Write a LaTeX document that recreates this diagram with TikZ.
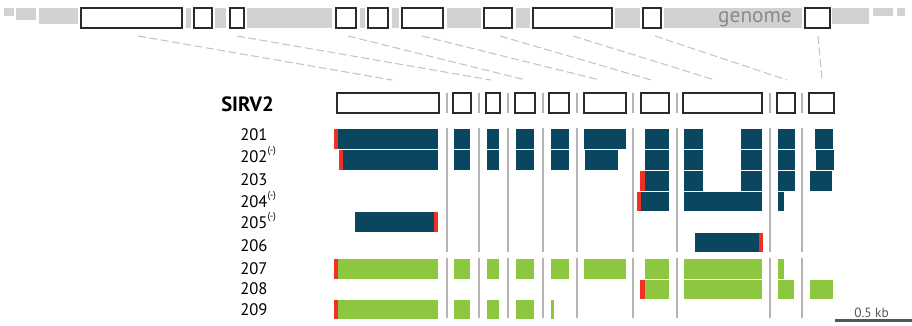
\documentclass[tikz,border=0pt]{standalone}
\usepackage{fontspec}
\setmainfont{PT Sans}
\usetikzlibrary{fit,calc}
\definecolor{gbar}{HTML}{D2D2D2}
\definecolor{boxline}{HTML}{2B2B2B}
\definecolor{dblue}{HTML}{0B4660}
\definecolor{lgreen}{HTML}{8DC63F}
\definecolor{redm}{HTML}{EE3124}
\definecolor{sepc}{HTML}{B4B4B4}
\definecolor{dashc}{HTML}{C4C4C4}
\definecolor{txtgrey}{HTML}{8A8A8A}
\definecolor{scalec}{HTML}{555555}
\newcommand\exn[4]{\fill[#1] (#2,#4) rectangle (#3,#4+19.5);}
\begin{document}
\begin{tikzpicture}[x=0.75pt,y=-0.75pt,
  gbox/.style={draw=boxline, line width=1pt, fill=white, inner sep=0pt, outer sep=0pt},
  sbox/.style={draw=boxline, line width=1.1pt, fill=white, inner sep=0pt, outer sep=0pt},
  sepline/.style={draw=sepc, line width=1pt},
  dline/.style={draw=dashc, line width=0.8pt, dash pattern=on 6pt off 2.6pt},
  lab/.style={anchor=base west, inner sep=0pt, font=\fontsize{12.5}{14}\selectfont}]
\useasboundingbox (0,0) rectangle (912,325);
% grey genome bar pieces
\fill[gbar] (4,8) rectangle (14,16);
\fill[gbar] (16,8) rectangle (36,20);
\fill[gbar] (39,8) rectangle (78,24);
\foreach \a/\b in {186/191,215/226,247/332,360/365,392/399,447/481,516/530,615/640,664/802}
  \fill[gbar] (\a,8) rectangle (\b,28);
\fill[gbar] (832,8) rectangle (869,24);
\fill[gbar] (873,8) rectangle (893,16);
\fill[gbar] (897,8) rectangle (905,16);
\node[anchor=base, inner sep=0pt, text=txtgrey, font=\fontsize{16}{18}\selectfont] (glab) at (755,22) {genome};
% genome exon boxes
\node[gbox, fit={(81,8)(182,28)}] (g1) {};
\node[gbox, fit={(194,8)(212,28)}] (g2) {};
\node[gbox, fit={(230,8)(244,28)}] (g3) {};
\node[gbox, fit={(336,8)(356,28)}] (g4) {};
\node[gbox, fit={(368,8)(388,28)}] (g5) {};
\node[gbox, fit={(402,8)(443,28)}] (g6) {};
\node[gbox, fit={(484,8)(512,28)}] (g7) {};
\node[gbox, fit={(533,8)(612,28)}] (g8) {};
\node[gbox, fit={(643,8)(661,28)}] (g9) {};
\node[gbox, fit={(805,8)(830,28)}] (g10) {};
% SIRV2 exon boxes
\node[anchor=base west, inner sep=0pt, font=\bfseries\fontsize{15.5}{18}\selectfont] (sirv) at (221,111) {SIRV2};
\node[sbox, fit={(337,93)(439,113)}] (s1) {};
\node[sbox, fit={(453,93)(471,113)}] (s2) {};
\node[sbox, fit={(486,93)(500,113)}] (s3) {};
\node[sbox, fit={(515,93)(535,113)}] (s4) {};
\node[sbox, fit={(549,93)(569,113)}] (s5) {};
\node[sbox, fit={(584,93)(626,113)}] (s6) {};
\node[sbox, fit={(641,93)(669,113)}] (s7) {};
\node[sbox, fit={(683,93)(762,113)}] (s8) {};
\node[sbox, fit={(777,93)(795,113)}] (s9) {};
\node[sbox, fit={(809,93)(834,113)}] (s10) {};
% dashed mapping lines
\foreach \i/\xa/\xb in {1/138/392,2/237/491,3/348/526,4/422/600,5/500/651,6/573/715,7/655/787,8/818/822}{
  \coordinate (da\i) at (\xa,36);
  \coordinate (db\i) at (\xb,80);
  \draw[dline] (da\i) -- (db\i);
}
% separator lines
\foreach \x in {447,479,508,543,577,633,677,770,802}{
  \draw[sepline] (\x,93) -- (\x,113);
  \draw[sepline] (\x,128) -- (\x,252);
  \draw[sepline] (\x,258) -- (\x,318);
}
% labels
\newcommand\minus{\raisebox{0.5em}{\fontsize{7.5}{8}\selectfont(-)}}
\node[lab] (l201) at (240,140) {201};
\node[lab] (l202) at (240,162) {202\minus};
\node[lab] (l203) at (240,185) {203};
\node[lab] (l204) at (240,207) {204\minus};
\node[lab] (l205) at (240,228) {205\minus};
\node[lab] (l206) at (240,251) {206};
\node[lab] (l207) at (240,274) {207};
\node[lab] (l208) at (240,294) {208};
\node[lab] (l209) at (240,315) {209};
% transcripts
% 201
\exn{redm}{334}{338}{129}
\foreach \a/\b in {338/438,454/470,487/499,516/534,551/569,584/626,645/669,684/703,741/762,778/795,815/833}{\exn{dblue}{\a}{\b}{129}}
% 202
\exn{redm}{339}{343}{150}
\foreach \a/\b in {343/438,454/470,487/499,516/534,551/569,585/618,645/669,684/703,741/762,778/795,816/834}{\exn{dblue}{\a}{\b}{150}}
% 203
\exn{redm}{640}{644.5}{171}
\foreach \a/\b in {645/669,684/703,741/762,778/795,810/832}{\exn{dblue}{\a}{\b}{171}}
% 204
\exn{redm}{637}{641}{191.5}
\foreach \a/\b in {641/669,684/762,778/784}{\exn{dblue}{\a}{\b}{191.5}}
% 205
\exn{dblue}{355}{433.5}{212}
\exn{redm}{434}{438}{212}
% 206
\exn{dblue}{695}{758.5}{232.5}
\exn{redm}{759}{763}{232.5}
% 207
\exn{redm}{334}{338}{259}
\foreach \a/\b in {338/438,454/470,487/499,516/534,551/569,584/626,645/669,684/762,778/784}{\exn{lgreen}{\a}{\b}{259}}
% 208
\exn{redm}{640}{644.5}{279.5}
\foreach \a/\b in {645/669,684/762,778/794,810/833}{\exn{lgreen}{\a}{\b}{279.5}}
% 209
\exn{redm}{334}{338}{299.5}
\foreach \a/\b in {338/438,454/470,487/499,516/534,551/554}{\exn{lgreen}{\a}{\b}{299.5}}
% scale bar
\coordinate (sb1) at (835,320.5);
\coordinate (sb2) at (912,320.5);
\draw[scalec, line width=1.6pt] (sb1) -- (sb2);
\node[anchor=base, inner sep=0pt, text=scalec, font=\fontsize{10}{12}\selectfont] (sbl) at (871.5,317) {0.5 kb};
\end{tikzpicture}
\end{document}
